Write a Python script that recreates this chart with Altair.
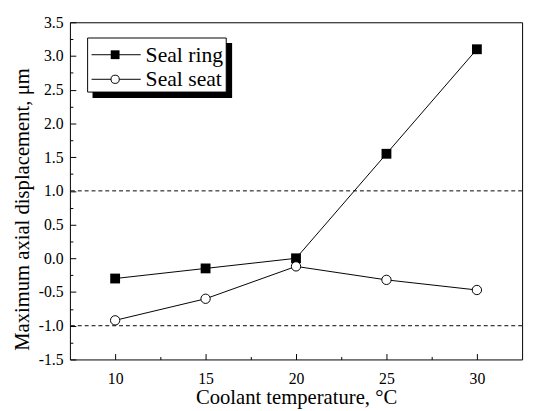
import altair as alt
import pandas as pd

temps = [10, 15, 20, 25, 30]
seal_ring = [-0.30, -0.15, 0.00, 1.55, 3.10]
seal_seat = [-0.92, -0.60, -0.12, -0.32, -0.47]
series = ["Seal ring", "Seal seat"]
ref_levels = [1.0, -1.0]
x_major = [10, 15, 20, 25, 30]
x_minor = [12.5, 17.5, 22.5, 27.5]
y_major = [-1.5, -1.0, -0.5, 0.0, 0.5, 1.0, 1.5, 2.0, 2.5, 3.0, 3.5]
y_minor = [-1.25, -0.75, -0.25, 0.25, 0.75, 1.25, 1.75, 2.25, 2.75, 3.25]

FONT = "Liberation Serif"

df = pd.DataFrame({
    "temp": temps * 2,
    "disp": seal_ring + seal_seat,
    "series": [series[0]] * len(temps) + [series[1]] * len(temps),
})
ref_df = pd.DataFrame({"level": ref_levels})
leg_df = pd.DataFrame({"series": series})

xs = alt.Scale(domain=[7.5, 32.5], nice=False, zero=False)
ys = alt.Scale(domain=[-1.5, 3.5], nice=False, zero=False)

label_x_axis = alt.Axis(orient="bottom", values=x_major, format="d", ticks=False, domain=False, grid=False,
                        labelPadding=11, title="Coolant temperature, °C", titlePadding=1,
                        labelFont=FONT, titleFont=FONT, labelFontSize=16, titleFontSize=21,
                        labelColor="black", titleColor="black", titleFontWeight="normal")
label_y_axis = alt.Axis(orient="left", values=y_major, ticks=False, domain=False, grid=False, labelPadding=7,
                        labelExpr="datum.value < 0 ? '-' + format(-datum.value, '.1f') : format(datum.value, '.1f')",
                        title="Maximum axial displacement, μm", titlePadding=6, titleY=190,
                        labelFont=FONT, titleFont=FONT, labelFontSize=16, titleFontSize=21,
                        labelColor="black", titleColor="black", titleFontWeight="normal")

def tick_axis(vals, size, orient):
    return alt.Axis(orient=orient, values=vals, labels=False, domain=False, grid=False, ticks=True,
                    tickSize=size, offset=-size, title=None, tickColor="black", tickWidth=1)

lines = alt.Chart(df).mark_line(color="black", strokeWidth=1).encode(
    x=alt.X("temp:Q", scale=xs, axis=label_x_axis),
    y=alt.Y("disp:Q", scale=ys, axis=label_y_axis),
    detail="series:N",
)

refs = alt.Chart(ref_df).mark_rule(color="black", strokeWidth=1, strokeDash=[4, 3]).encode(
    y=alt.Y("level:Q", scale=ys, axis=tick_axis(y_major, 6, "left")),
)

ring_pts = alt.Chart(df).transform_filter(alt.datum.series == series[0]).mark_point(
    shape="square", filled=True, color="black", size=100, opacity=1
).encode(
    x=alt.X("temp:Q", scale=xs, axis=tick_axis(x_major, 6, "bottom")),
    y=alt.Y("disp:Q", scale=ys, axis=tick_axis(y_minor, 3, "left")),
)

seat_pts = alt.Chart(df).transform_filter(alt.datum.series == series[1]).mark_point(
    shape="circle", filled=True, fill="white", stroke="black", strokeWidth=1, size=90, opacity=1
).encode(
    x=alt.X("temp:Q", scale=xs, axis=tick_axis(x_minor, 3, "bottom")),
    y=alt.Y("disp:Q", scale=ys, axis=None),
)

# legend box with drop shadow
shadow = alt.Chart(leg_df).transform_filter(alt.datum.series == series[0]).mark_rect(color="black").encode(
    x=alt.value(23), x2=alt.value(165), y=alt.value(21), y2=alt.value(77))
box = alt.Chart(leg_df).transform_filter(alt.datum.series == series[0]).mark_rect(
    fill="white", stroke="black", strokeWidth=1).encode(
    x=alt.value(18), x2=alt.value(159), y=alt.value(16), y2=alt.value(71))

leg_layers = []
for i, s in enumerate(series):
    yy = 33 + 25 * i
    base = alt.Chart(leg_df).transform_filter(alt.datum.series == s)
    leg_layers.append(base.mark_rule(color="black", strokeWidth=1).encode(
        x=alt.value(22), x2=alt.value(72), y=alt.value(yy)))
    if i == 0:
        leg_layers.append(base.mark_point(shape="square", filled=True, color="black", size=80, opacity=1).encode(
            x=alt.value(46), y=alt.value(yy)))
    else:
        leg_layers.append(base.mark_point(shape="circle", filled=True, fill="white", stroke="black",
                                          strokeWidth=1, size=70, opacity=1).encode(
            x=alt.value(46), y=alt.value(yy)))
    leg_layers.append(base.mark_text(align="left", baseline="middle", fontSize=22, color="black").encode(
        x=alt.value(77), y=alt.value(yy), text="series:N"))

chart = alt.layer(refs, lines, ring_pts, seat_pts, shadow, box, *leg_layers).resolve_axis(
    x="independent", y="independent"
).properties(
    width=460, height=343, background="white",
    padding={"left": 3, "top": 3, "right": 5, "bottom": 5},
).configure_view(
    stroke="black", strokeWidth=1
).configure_text(font=FONT)

chart.save("out.html", embed_options={"renderer": "svg", "actions": False})
